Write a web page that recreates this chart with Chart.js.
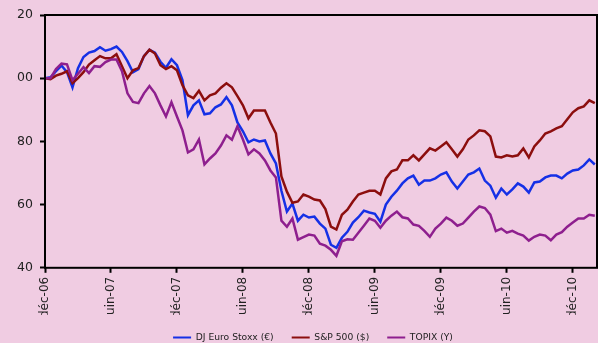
<!DOCTYPE html>
<html>
<head>
<meta charset="utf-8">
<script src="https://cdn.jsdelivr.net/npm/chart.js@4.4.1/dist/chart.umd.min.js"></script>
<style>
  html, body { margin: 0; padding: 0; background: #f0cce2; overflow: hidden; width: 598px; height: 343px; }
  #wrap { position: absolute; left: -16px; top: 0; width: 658px; height: 352px; }
  /* the leading digit of the y labels is cut off at the left edge */
  #grafica { clip-path: inset(0 0 0 32px); }
</style>
</head>
<body>
<div id="wrap"><canvas id="grafica" width="658" height="352"></canvas></div>
<script>
// half-month steps starting déc-06 (x in months)
const tickLabels = ['déc-06', 'juin-07', 'déc-07', 'juin-08', 'déc-08', 'juin-09', 'déc-09', 'juin-10', 'déc-10']
const tickMonths = [0, 6, 12, 18, 24, 30, 36, 42, 48]

const euroStoxx = [
  100.0, 100.3, 102.2, 104.0, 101.9, 97.1, 103.2, 106.7, 108.1, 108.6,
  109.8, 108.7, 109.2, 110.0, 108.3, 105.4, 101.9, 102.9, 107.0, 109.0,
  108.1, 105.2, 103.3, 106.0, 104.1, 99.4, 88.3, 91.4, 93.0, 88.6,
  88.9, 90.8, 91.7, 94.0, 91.4, 86.0, 83.2, 79.7, 80.6, 80.0,
  80.3, 76.2, 73.0, 64.4, 57.8, 60.3, 54.9, 56.8, 55.9, 56.2,
  54.0, 52.4, 47.3, 46.3, 49.5, 51.4, 54.3, 56.0, 58.1, 57.5,
  57.1, 54.6, 60.0, 62.5, 64.4, 66.7, 68.3, 69.2, 66.3, 67.6,
  67.6, 68.3, 69.5, 70.2, 67.3, 65.1, 67.3, 69.5, 70.2, 71.4,
  67.6, 66.0, 62.2, 65.1, 63.2, 64.8, 66.7, 65.7, 63.8, 67.0,
  67.3, 68.6, 69.2, 69.2, 68.3, 69.8, 70.8, 71.1, 72.4, 74.3, 72.7
]
const sp500 = [
  100.0, 99.7, 100.8, 101.4, 102.2, 98.4, 100.0, 101.9, 104.3, 105.7,
  107.0, 106.3, 106.3, 107.6, 103.8, 100.0, 102.5, 103.2, 107.0, 109.0,
  107.8, 104.1, 102.9, 103.8, 102.5, 97.8, 94.6, 93.7, 96.0, 93.0,
  94.6, 95.2, 97.0, 98.4, 97.1, 94.3, 91.4, 87.3, 89.8, 89.8,
  89.8, 86.0, 82.5, 68.9, 64.1, 60.6, 61.0, 63.2, 62.5, 61.6,
  61.3, 58.6, 53.0, 52.1, 56.8, 58.4, 61.0, 63.2, 63.8, 64.4,
  64.4, 63.2, 68.3, 70.5, 71.1, 74.0, 74.0, 75.6, 74.0, 75.9,
  77.8, 77.1, 78.4, 79.7, 77.5, 75.2, 77.5, 80.6, 81.9, 83.5,
  83.2, 81.6, 75.2, 74.9, 75.6, 75.2, 75.6, 77.8, 74.9, 78.4,
  80.3, 82.5, 83.2, 84.1, 84.8, 87.0, 89.2, 90.5, 91.1, 93.0, 92.1
]
const topix = [
  100.0, 100.0, 102.9, 104.6, 104.4, 99.4, 101.4, 103.5, 101.6, 103.8,
  103.6, 105.1, 105.9, 105.9, 102.2, 95.2, 92.5, 92.1, 95.2, 97.5,
  95.2, 91.4, 87.9, 92.4, 87.9, 83.5, 76.5, 77.5, 80.6, 72.7,
  74.6, 76.2, 78.7, 81.9, 80.5, 84.8, 80.6, 75.9, 77.5, 76.2,
  74.0, 70.8, 68.6, 54.9, 53.0, 55.6, 48.9, 49.7, 50.5, 50.2,
  47.6, 47.0, 45.7, 43.8, 48.4, 49.0, 48.9, 51.1, 53.3, 55.6,
  54.9, 52.7, 54.9, 56.5, 57.8, 56.0, 55.6, 53.7, 53.3, 51.7,
  49.8, 52.4, 54.0, 55.9, 54.9, 53.3, 54.0, 55.9, 57.8, 59.4,
  58.9, 56.8, 51.6, 52.4, 51.1, 51.7, 50.8, 50.2, 48.6, 49.8,
  50.5, 50.2, 48.7, 50.5, 51.3, 53.0, 54.3, 55.6, 55.6, 56.8, 56.5
]

const toPoints = (values) => values.map((v, i) => ({ x: i * 0.5, y: v }))

// black frame round the plot area
const frame = {
  id: 'frame',
  afterDatasetsDraw(chart) {
    const { ctx, chartArea: a } = chart
    ctx.save()
    ctx.strokeStyle = '#000'
    ctx.lineWidth = 2
    ctx.strokeRect(a.left, a.top, a.right - a.left, a.bottom - a.top)
    ctx.restore()
  }
}

const graph = document.querySelector('#grafica')

new Chart(graph, {
  type: 'line',
  data: {
    datasets: [
      { label: 'DJ Euro Stoxx (€)', data: toPoints(euroStoxx), borderColor: '#1530e6', backgroundColor: '#1530e6', order: 3 },
      { label: 'S&P 500 ($)', data: toPoints(sp500), borderColor: '#8c0e0e', backgroundColor: '#8c0e0e', order: 2 },
      { label: 'TOPIX (Y)', data: toPoints(topix), borderColor: '#8e1f8e', backgroundColor: '#8e1f8e', order: 1 }
    ]
  },
  options: {
    responsive: false,
    animation: false,
    events: [],
    elements: {
      line: { borderWidth: 2.5, tension: 0 },
      point: { radius: 0 }
    },
    layout: { padding: { top: 15, left: 0, right: 0, bottom: 0 } },
    scales: {
      x: {
        type: 'linear',
        min: 0,
        max: 50.2,
        afterBuildTicks: (s) => { s.ticks = tickMonths.map(v => ({ value: v })) },
        afterFit: (s) => { s.height = 47 },
        border: { display: false },
        grid: { drawOnChartArea: false, drawTicks: true, tickLength: 5, tickWidth: 2, tickColor: '#000' },
        ticks: {
          autoSkip: false,
          maxRotation: 90,
          minRotation: 90,
          padding: 4,
          color: '#222',
          font: { family: 'DejaVu Sans', size: 12 },
          callback: (v) => tickLabels[tickMonths.indexOf(v)]
        }
      },
      y: {
        min: 40,
        max: 120,
        afterFit: (s) => { s.width = 61 },
        border: { display: false },
        grid: { drawOnChartArea: false, drawTicks: true, tickLength: 5, tickWidth: 2, tickColor: '#000' },
        ticks: { stepSize: 20, padding: 7, color: '#222', font: { family: 'DejaVu Sans', size: 12.5 } }
      },
      // empty axis that keeps room on the right
      pad: {
        position: 'right',
        afterFit: (s) => { s.width = 45 },
        border: { display: false },
        grid: { display: false },
        ticks: { display: false }
      }
    },
    plugins: {
      tooltip: { enabled: false },
      legend: {
        position: 'bottom',
        labels: {
          boxWidth: 18,
          boxHeight: 2,
          padding: 18,
          color: '#222',
          font: { family: 'DejaVu Sans', size: 9.2 },
          sort: (a, b) => a.datasetIndex - b.datasetIndex,
          // thin line samples, no outline
          generateLabels: (chart) => Chart.defaults.plugins.legend.labels.generateLabels(chart)
            .map(item => ({ ...item, strokeStyle: 'rgba(0,0,0,0)' }))
        }
      }
    }
  },
  plugins: [frame]
});
</script>
</body>
</html>
